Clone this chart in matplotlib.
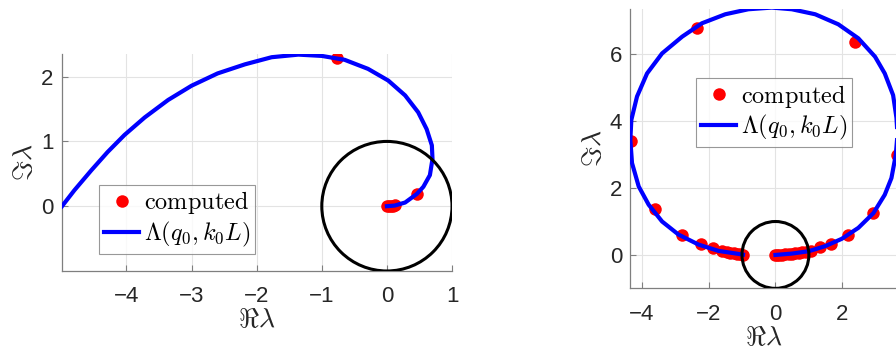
import numpy as np
import matplotlib
matplotlib.use('Agg')
import matplotlib.pyplot as plt
from matplotlib.patches import Circle

plt.rcParams['font.family'] = ['Liberation Sans', 'DejaVu Sans']
plt.rcParams['mathtext.fontset'] = 'cm'

# --- left panel: short contour ---
left_curve_re = [-4.99, -4.8, -4.54, -4.29, -4.03, -3.72, -3.36, -3.0, -2.6, -2.18,
                 -1.77, -1.36, -1.0, -0.65, -0.29, 0.02, 0.28, 0.48, 0.61, 0.69,
                 0.70, 0.66, 0.56, 0.46, 0.28, 0.12, 0.0]
left_curve_im = [0.0, 0.246, 0.554, 0.836, 1.10, 1.37, 1.64, 1.86, 2.05, 2.19,
                 2.30, 2.34, 2.32, 2.26, 2.12, 1.94, 1.71, 1.45, 1.19, 0.94,
                 0.73, 0.48, 0.30, 0.19, 0.057, 0.01, 0.0]
left_pts_re = [-0.77, 0.46, 0.0, 0.03, 0.06, 0.09, 0.12]
left_pts_im = [2.29, 0.19, 0.0, 0.0, 0.01, 0.01, 0.02]

# --- right panel: long contour ---
right_curve_re = [0.0, 0.49, 0.99, 1.48, 1.98, 2.48, 2.93, 3.27, 3.47, 3.60, 3.65, 3.62,
                  3.52, 3.27, 2.98, 2.48, 1.88, 1.19, 0.49, -0.11, -0.81, -1.50, -2.20,
                  -2.79, -3.39, -3.84, -4.14, -4.31, -4.34, -4.29, -4.09, -3.79, -3.39,
                  -2.90, -2.30, -1.70, -1.30, -0.97]
right_curve_im = [0.0, 0.04, 0.11, 0.26, 0.48, 0.81, 1.25, 1.80, 2.30, 2.99, 3.6, 4.1,
                  4.78, 5.43, 5.93, 6.48, 6.90, 7.20, 7.35, 7.40, 7.35, 7.20, 6.93,
                  6.53, 6.03, 5.43, 4.74, 4.04, 3.44, 2.75, 2.05, 1.50, 1.0,
                  0.61, 0.31, 0.12, 0.06, 0.01]
right_pts_re = [0.0, 0.06, 0.12, 0.2, 0.3, 0.4, 0.5, 0.6, 0.7, 0.8, 0.9, 1.05, 1.33, 1.65,
                2.16, 2.93, 3.63, 2.38, -2.35, -4.31, -3.59, -2.79, -2.22, -1.88, -1.6,
                -1.45, -1.35, -1.25, -1.15, -1.05, -0.96]
right_pts_im = [0.0, 0.0, 0.01, 0.01, 0.02, 0.03, 0.04, 0.05, 0.06, 0.08, 0.09, 0.12, 0.23, 0.34,
                0.61, 1.25, 2.99, 6.36, 6.79, 3.42, 1.37, 0.61, 0.33, 0.20, 0.12,
                0.09, 0.07, 0.05, 0.03, 0.02, 0.01]

text_col = '#262626'


def draw_panel(ax, curve_re, curve_im, pts_re, pts_im, xlim, ylim, xticks, yticks, legend_loc):
    ax.plot(pts_re, pts_im, 'o', color='red', markersize=9, markeredgewidth=0,
            label=r'$\mathrm{computed}$', zorder=3)
    ax.plot(curve_re, curve_im, '-', color='blue', linewidth=3,
            solid_joinstyle='round', label=r'$\Lambda(q_0,k_0L)$', zorder=4)
    # unit circle
    ax.add_patch(Circle((0, 0), 1, fill=False, edgecolor='black', linewidth=2.2, zorder=5))

    ax.set_xlim(xlim)
    ax.set_ylim(ylim)
    ax.set_xticks(xticks)
    ax.set_yticks(yticks)
    ax.grid(True, color='#e3e3e3', linewidth=0.8)
    ax.set_axisbelow(True)
    for side in ['top', 'right']:
        ax.spines[side].set_visible(False)
    for side in ['left', 'bottom']:
        ax.spines[side].set_color('#7f7f7f')
        ax.spines[side].set_linewidth(0.9)
    ax.tick_params(direction='in', length=4, width=0.8, color='#7f7f7f',
                   labelsize=16, labelcolor=text_col)
    ax.tick_params(axis='x', pad=11)
    ax.tick_params(axis='y', pad=6)
    ax.set_xlabel(r'$\Re\lambda$', fontsize=20, color=text_col, labelpad=0)
    ax.set_ylabel(r'$\Im\lambda$', fontsize=20, color=text_col, labelpad=2)

    leg = ax.legend(loc='lower left', bbox_to_anchor=legend_loc, fontsize=17.5,
                    frameon=True, fancybox=False, handlelength=1.45,
                    handletextpad=0.2, borderpad=0.2, labelspacing=0.15,
                    borderaxespad=0)
    leg.get_frame().set_edgecolor('#7f7f7f')
    leg.get_frame().set_linewidth(0.8)
    leg.set_zorder(10)


fig = plt.figure(figsize=(8.96, 3.56), dpi=100)

ax1 = fig.add_axes([0.0692, 0.2388, 0.4353, 0.6096])
draw_panel(ax1, left_curve_re, left_curve_im, left_pts_re, left_pts_im,
           (-4.99, 1), (-1, 2.35), [-4, -3, -2, -1, 0, 1], [0, 1, 2],
           (0.095, 0.078))

ax2 = fig.add_axes([0.7035, 0.190, 0.2985, 0.784])
draw_panel(ax2, right_curve_re, right_curve_im, right_pts_re, right_pts_im,
           (-4.34, 3.66), (-1, 7.35), [-4, -2, 0, 2], [0, 2, 4, 6],
           (0.2456, 0.506))

fig.savefig('out.png', dpi=100)
